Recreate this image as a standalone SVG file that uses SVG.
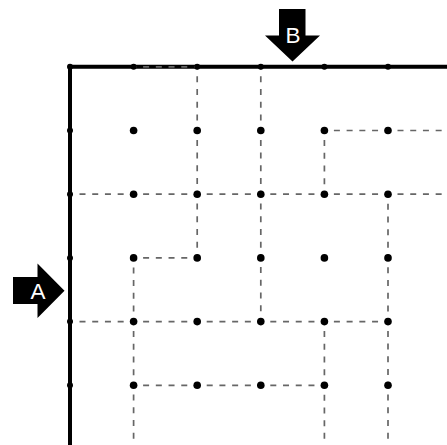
<svg xmlns="http://www.w3.org/2000/svg" width="447" height="445" viewBox="0 0 447 445">
<style>
.wall{stroke:#000;stroke-width:4;fill:none;stroke-linecap:butt}
.path{stroke:#666;stroke-width:1.7;fill:none;stroke-dasharray:6 6.72;stroke-dashoffset:3.22}
.dot{fill:#000}
.edge{fill:#000}
.arrow{fill:#000}
.lbl{font-family:"Liberation Sans",Arial,sans-serif;font-size:22.5px;fill:#fff;text-anchor:middle}
</style>
<rect width="447" height="445" fill="#fff"/>
<g id="connectors">
<path class="wall" d="M70,445 V66.8 H447"/>
<path class="path" d="M133.6,66.8 H197.2"/>
<path class="path" d="M324.4,130.5 H447"/>
<path class="path" d="M70,194.2 H447"/>
<path class="path" d="M133.6,257.9 H197.2"/>
<path class="path" d="M70,321.6 H388"/>
<path class="path" d="M133.6,385.3 H324.4"/>
<path class="path" d="M197.2,66.8 V257.9"/>
<path class="path" d="M260.8,66.8 V321.6"/>
<path class="path" d="M324.4,130.5 V194.2"/>
<path class="path" d="M324.4,321.6 V445"/>
<path class="path" d="M388,194.2 V445"/>
<path class="path" d="M133.6,257.9 V445"/>
</g>
<g id="border-dots">
<g id="n00"><circle class="edge" cx="70" cy="66.8" r="3"/></g>
<g id="n10"><circle class="edge" cx="133.6" cy="66.8" r="3"/></g>
<g id="n20"><circle class="edge" cx="197.2" cy="66.8" r="3"/></g>
<g id="n30"><circle class="edge" cx="260.8" cy="66.8" r="3"/></g>
<g id="n40"><circle class="edge" cx="324.4" cy="66.8" r="3"/></g>
<g id="n50"><circle class="edge" cx="388" cy="66.8" r="3"/></g>
<g id="n01"><circle class="edge" cx="70" cy="130.5" r="3"/></g>
<g id="n02"><circle class="edge" cx="70" cy="194.2" r="3"/></g>
<g id="n03"><circle class="edge" cx="70" cy="257.9" r="3"/></g>
<g id="n04"><circle class="edge" cx="70" cy="321.6" r="3"/></g>
<g id="n05"><circle class="edge" cx="70" cy="385.3" r="3"/></g>
</g>
<g id="grid-dots">
<g id="n11"><circle class="dot" cx="133.6" cy="130.5" r="3.8"/></g>
<g id="n21"><circle class="dot" cx="197.2" cy="130.5" r="3.8"/></g>
<g id="n31"><circle class="dot" cx="260.8" cy="130.5" r="3.8"/></g>
<g id="n41"><circle class="dot" cx="324.4" cy="130.5" r="3.8"/></g>
<g id="n51"><circle class="dot" cx="388" cy="130.5" r="3.8"/></g>
<g id="n12"><circle class="dot" cx="133.6" cy="194.2" r="3.8"/></g>
<g id="n22"><circle class="dot" cx="197.2" cy="194.2" r="3.8"/></g>
<g id="n32"><circle class="dot" cx="260.8" cy="194.2" r="3.8"/></g>
<g id="n42"><circle class="dot" cx="324.4" cy="194.2" r="3.8"/></g>
<g id="n52"><circle class="dot" cx="388" cy="194.2" r="3.8"/></g>
<g id="n13"><circle class="dot" cx="133.6" cy="257.9" r="3.8"/></g>
<g id="n23"><circle class="dot" cx="197.2" cy="257.9" r="3.8"/></g>
<g id="n33"><circle class="dot" cx="260.8" cy="257.9" r="3.8"/></g>
<g id="n43"><circle class="dot" cx="324.4" cy="257.9" r="3.8"/></g>
<g id="n53"><circle class="dot" cx="388" cy="257.9" r="3.8"/></g>
<g id="n14"><circle class="dot" cx="133.6" cy="321.6" r="3.8"/></g>
<g id="n24"><circle class="dot" cx="197.2" cy="321.6" r="3.8"/></g>
<g id="n34"><circle class="dot" cx="260.8" cy="321.6" r="3.8"/></g>
<g id="n44"><circle class="dot" cx="324.4" cy="321.6" r="3.8"/></g>
<g id="n54"><circle class="dot" cx="388" cy="321.6" r="3.8"/></g>
<g id="n15"><circle class="dot" cx="133.6" cy="385.3" r="3.8"/></g>
<g id="n25"><circle class="dot" cx="197.2" cy="385.3" r="3.8"/></g>
<g id="n35"><circle class="dot" cx="260.8" cy="385.3" r="3.8"/></g>
<g id="n45"><circle class="dot" cx="324.4" cy="385.3" r="3.8"/></g>
<g id="n55"><circle class="dot" cx="388" cy="385.3" r="3.8"/></g>
</g>
<g id="arrow-B">
<path class="arrow" d="M279,9 H305.5 V35.5 H320 L292.5,61.5 L265,35.5 H279 Z"/>
<text class="lbl" x="293" y="43">B</text>
</g>
<g id="arrow-A">
<path class="arrow" d="M13,277 H37.5 V263.5 L64.5,290.8 L37.5,318 V304 H13 Z"/>
<text class="lbl" x="38" y="298.5">A</text>
</g>
</svg>
